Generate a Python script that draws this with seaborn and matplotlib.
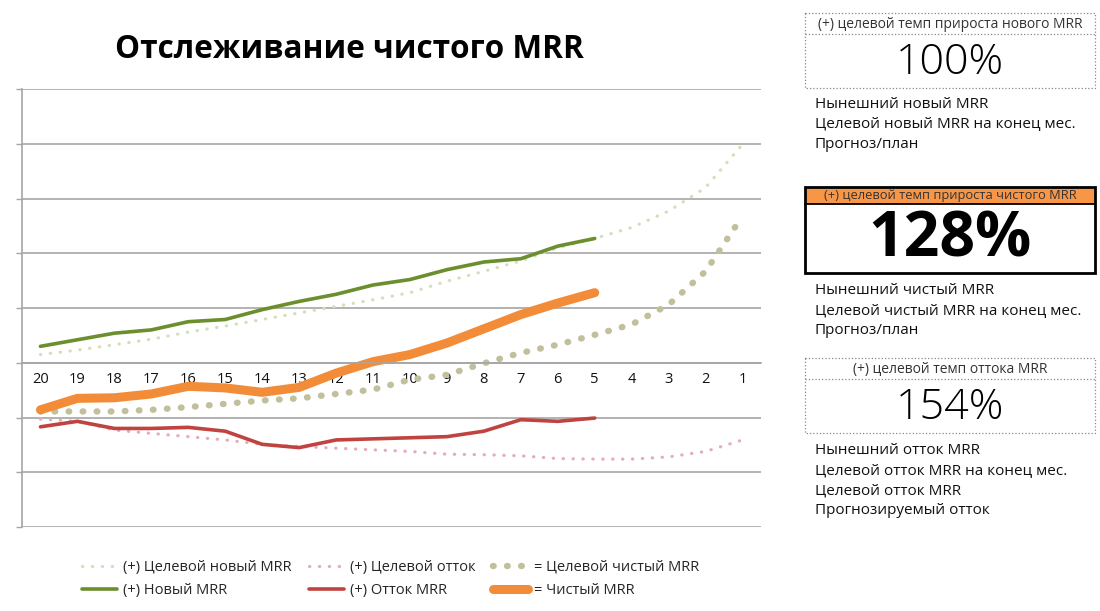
import matplotlib
matplotlib.use("Agg")
import matplotlib.pyplot as plt
import numpy as np
import seaborn as sns
from matplotlib.patches import Rectangle

# Data (months left)
months = [20, 19, 18, 17, 16, 15, 14, 13, 12, 11, 10, 9, 8, 7, 6, 5, 4, 3, 2, 1]
target_new = [0.15, 0.23, 0.33, 0.43, 0.56, 0.67, 0.79, 0.91, 1.03, 1.15,
              1.28, 1.49, 1.67, 1.86, 2.10, 2.27, 2.47, 2.77, 3.20, 3.99]
new_mrr = [0.30, 0.42, 0.54, 0.60, 0.75, 0.79, 0.97, 1.12, 1.25, 1.42,
           1.52, 1.70, 1.84, 1.90, 2.13, 2.27]
target_churn = [-1.03, -1.07, -1.23, -1.29, -1.35, -1.41, -1.49, -1.53, -1.56, -1.59,
                -1.62, -1.67, -1.68, -1.70, -1.75, -1.76, -1.76, -1.72, -1.62, -1.41]
churn = [-1.17, -1.07, -1.20, -1.20, -1.18, -1.25, -1.49, -1.55, -1.41, -1.39,
         -1.37, -1.35, -1.25, -1.04, -1.07, -1.01]
target_net = [-0.89, -0.89, -0.89, -0.86, -0.81, -0.75, -0.69, -0.65, -0.57, -0.49,
              -0.31, -0.22, -0.01, 0.18, 0.33, 0.51, 0.70, 1.06, 1.67, 2.68]
net_mrr = [-0.86, -0.65, -0.64, -0.57, -0.43, -0.46, -0.54, -0.45, -0.19, 0.02,
           0.15, 0.36, 0.62, 0.88, 1.09, 1.28]

legend_labels = ["(+) Целевой новый MRR", "(+) Новый MRR",
                 "(+) Целевой отток", "(+) Отток MRR",
                 "= Целевой чистый MRR", "= Чистый MRR"]

title = "Отслеживание чистого MRR"
box_headers = ["(+) целевой темп прироста нового MRR",
               "(+) целевой темп прироста чистого MRR",
               "(+) целевой темп оттока MRR"]
box_values = ["100%", "128%", "154%"]
box_notes = [["Нынешний новый MRR", "Целевой новый MRR на конец мес.", "Прогноз/план"],
             ["Нынешний чистый MRR", "Целевой чистый MRR на конец мес.", "Прогноз/план"],
             ["Нынешний отток MRR", "Целевой отток MRR на конец мес.",
              "Целевой отток MRR", "Прогнозируемый отток"]]

sns.set_style("white")
plt.rcParams['font.family'] = ['Open Sans', 'DejaVu Sans']

GRID = '#a6a6a6'
fig = plt.figure(figsize=(11, 6.11), dpi=100)
ax = fig.add_axes([22 / 1100, 84 / 611, 739 / 1100, 438 / 611])

pos = list(range(len(months)))
n = len(new_mrr)

dot_small = (0, (0.1, 3.0))
dot_big = (0, (0.1, 2.1))

sns.lineplot(x=pos, y=target_new, ax=ax, color='#d3dfb8', lw=2.3,
             linestyle=dot_small, dash_capstyle='round', label=legend_labels[0])
sns.lineplot(x=pos, y=target_churn, ax=ax, color='#e3aeb6', lw=2.3,
             linestyle=dot_small, dash_capstyle='round', label=legend_labels[2])
sns.lineplot(x=pos, y=target_net, ax=ax, color='#c2bf9c', lw=4.6,
             linestyle=dot_big, dash_capstyle='round', label=legend_labels[4])
sns.lineplot(x=pos[:n], y=new_mrr, ax=ax, color='#6a8f2c', lw=2.6,
             solid_capstyle='round', label=legend_labels[1])
sns.lineplot(x=pos[:n], y=churn, ax=ax, color='#c0433f', lw=2.6,
             solid_capstyle='round', label=legend_labels[3])
sns.lineplot(x=pos[:n], y=net_mrr, ax=ax, color='#f28c38', lw=6.5,
             solid_capstyle='round', label=legend_labels[5])

ax.set_xlim(-0.5, 19.5)
ax.set_ylim(-3, 5)
ax.set_xticks(np.arange(-0.5, 20, 1))
ax.set_xticks(pos, minor=True)
ax.set_xticklabels(months, minor=True)
ax.tick_params(axis='x', which='major', length=5, width=1, color=GRID,
               direction='out', labelbottom=False)
ax.tick_params(axis='x', which='minor', length=0, pad=7, labelsize=10.5,
               labelcolor='#111111')
ax.set_yticks(range(-3, 6))
ax.set_yticklabels([])
ax.tick_params(axis='y', length=4, width=1, color=GRID, direction='out', left=True)
ax.grid(axis='y', color=GRID, lw=1.2)
ax.set_axisbelow(True)
ax.spines['bottom'].set_position(('data', 0))
for s in ['top', 'right']:
    ax.spines[s].set_visible(False)
for s in ['left', 'bottom']:
    ax.spines[s].set_color(GRID)
    ax.spines[s].set_linewidth(1.2)
ax.set_xlabel('')
ax.set_ylabel('')

handles, labels = ax.get_legend_handles_labels()
order = [labels.index(l) for l in legend_labels]
ax.get_legend().remove()
fig.legend([handles[i] for i in order], [labels[i] for i in order],
           loc='upper left', bbox_to_anchor=(0.063, 0.105), ncol=3,
           frameon=False, fontsize=10.5, handlelength=2.4, handletextpad=0.4,
           columnspacing=1.2, labelspacing=0.55)

# overlay in pixel coordinates for the title and the right panel
ov = fig.add_axes([0, 0, 1, 1])
ov.set_xlim(0, 1100)
ov.set_ylim(611, 0)
ov.axis('off')

ov.text(349, 50, title, ha='center', va='center', fontsize=22.7, weight='bold',
        color='black')

boxes = [(13, 88, 34), (187, 273, 204), (358, 433, 379)]
note_tops = [104, 291, 451]
x0, x1 = 805, 1095
for i, (top, bot, sep) in enumerate(boxes):
    if i == 1:
        ov.add_patch(Rectangle((x0, top), x1 - x0, sep - top, facecolor='#f79646',
                               edgecolor='none'))
        ov.add_patch(Rectangle((x0, top), x1 - x0, bot - top, facecolor='none',
                               edgecolor='black', lw=2))
        ov.plot([x0, x1], [sep, sep], color='black', lw=1.3)
        ov.text((x0 + x1) / 2, (top + bot) / 2 + 10, box_values[i], ha='center',
                va='center', fontsize=45, weight='bold', color='black')
        head_size = 9.3
    else:
        ov.add_patch(Rectangle((x0, top), x1 - x0, bot - top, facecolor='none',
                               edgecolor='#888888', lw=0.9, linestyle=':'))
        ov.plot([x0, x1], [sep, sep], color='#888888', lw=0.9, linestyle=':')
        ov.text((x0 + x1) / 2, (sep + bot) / 2 + 2, box_values[i], ha='center',
                va='center', fontsize=31, weight='light', color='black')
        head_size = 10
    ov.text((x0 + x1) / 2, (top + sep) / 2 + 0.5, box_headers[i], ha='center',
            va='center', fontsize=head_size, color='#333333')
    for k, line in enumerate(box_notes[i]):
        ov.text(815, note_tops[i] + 20 * k, line, ha='left', va='center',
                fontsize=11, color='#111111')

fig.savefig('out.png', dpi=100, facecolor='white')
